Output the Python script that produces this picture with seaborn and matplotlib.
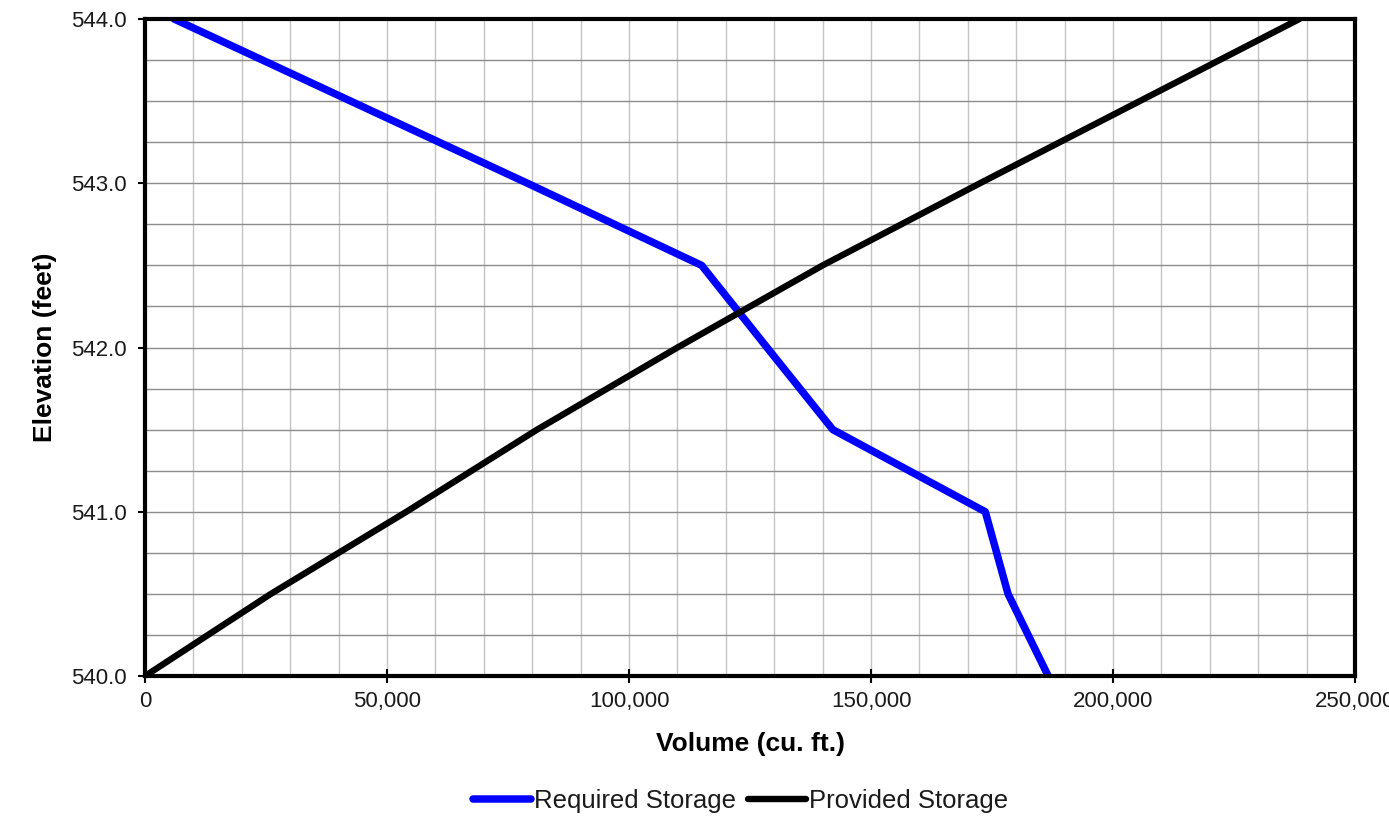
import numpy as np
import pandas as pd
import matplotlib
matplotlib.use("Agg")
import matplotlib.pyplot as plt
import seaborn as sns
from matplotlib.ticker import MultipleLocator, FuncFormatter

# ---- data ----
elevation = [540.0, 540.5, 541.0, 541.5, 542.0, 542.5, 543.0, 543.5, 544.0]
required_volume = [186600, 178300, 173600, 142100, 128500, 115000, 79000, 42500, 6000]
provided_volume = [0, 26000, 54000, 81000, 110000, 140000, 172500, 205500, 238500]
series_names = ["Required Storage", "Provided Storage"]
x_label = "Volume (cu. ft.)"
y_label = "Elevation (feet)"

sns.set_theme(style="white")
plt.rcParams["font.family"] = ["Liberation Sans", "DejaVu Sans"]

fig = plt.figure(figsize=(13.89, 8.40), dpi=100)
ax = fig.add_axes([0.1044, 0.1952, 0.8712, 0.7822])

df_req = pd.DataFrame({"vol": required_volume, "elev": elevation})
df_prov = pd.DataFrame({"vol": provided_volume, "elev": elevation})

sns.lineplot(data=df_req, x="vol", y="elev", sort=False, color="#0000ff",
             linewidth=5.4, ax=ax, label=series_names[0], zorder=3)
sns.lineplot(data=df_prov, x="vol", y="elev", sort=False, color="black",
             linewidth=4.6, ax=ax, label=series_names[1], zorder=4)

ax.set_xlim(0, 250000)
ax.set_ylim(540, 544)
ax.xaxis.set_major_locator(MultipleLocator(50000))
ax.xaxis.set_minor_locator(MultipleLocator(10000))
ax.yaxis.set_major_locator(MultipleLocator(1.0))
ax.yaxis.set_minor_locator(MultipleLocator(0.25))
ax.xaxis.set_major_formatter(FuncFormatter(lambda v, p: f"{v:,.0f}"))
ax.yaxis.set_major_formatter(FuncFormatter(lambda v, p: f"{v:.1f}"))

ax.grid(False)
ax.grid(True, which="both", axis="x", color="#c4c4c4", linewidth=1.0, zorder=0)
ax.grid(True, which="both", axis="y", color="#8c8c8c", linewidth=1.0, zorder=0)
ax.set_axisbelow(True)

for s in ax.spines.values():
    s.set_visible(True)
    s.set_color("black")
    s.set_linewidth(3.0)
    s.set_zorder(5)

ax.tick_params(axis="x", which="major", direction="inout", length=10, width=1.5,
               color="black", labelsize=16, pad=6, bottom=True)
ax.tick_params(axis="y", which="major", direction="out", length=5, width=1.5,
               color="black", labelsize=16, pad=8, left=True)
ax.tick_params(which="minor", length=0)
for lbl in ax.get_xticklabels() + ax.get_yticklabels():
    lbl.set_color("#1a1a1a")

ax.set_xlabel(x_label, fontsize=19, fontweight="bold", labelpad=14, color="black")
ax.set_ylabel(y_label, fontsize=19, fontweight="bold", labelpad=10, color="black")

leg = ax.legend(loc="center", bbox_to_anchor=(0.492, -0.19), ncol=2, frameon=False,
                fontsize=18.5, handlelength=2.25, handletextpad=0.12, columnspacing=0.47)
for t in leg.get_texts():
    t.set_color("#1a1a1a")

fig.savefig("out.png", dpi=100, facecolor="white")
